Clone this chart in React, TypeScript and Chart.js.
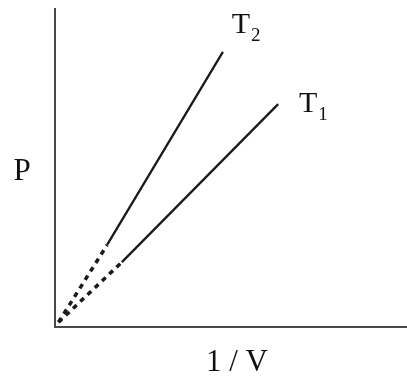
import React, { useEffect, useRef } from "react";
import { Chart, registerables } from "chart.js";

Chart.register(...registerables);

// Data (axis units 0..10, no ticks shown)
const t2Dashed = [
  { x: 0.1, y: 0.15 },
  { x: 1.48, y: 2.58 },
];
const t2Solid = [
  { x: 1.48, y: 2.58 },
  { x: 4.77, y: 8.65 },
];
const t1Dashed = [
  { x: 0.1, y: 0.15 },
  { x: 1.9, y: 2.04 },
];
const t1Solid = [
  { x: 1.9, y: 2.04 },
  { x: 6.34, y: 7.01 },
];
const seriesLabels = ["T", "T"];
const seriesSubs = ["2", "1"];
const labelAnchors = [
  { x: 5.02, y: 9.24 },
  { x: 6.93, y: 6.76 },
];
const xTitle = "1 / V";
const yTitle = "P";

const SERIF = "'Liberation Serif', 'Times New Roman', serif";

const textPlugin = {
  id: "textPlugin",
  afterDraw(chart: any) {
    const { ctx, chartArea, scales } = chart;
    ctx.save();
    ctx.fillStyle = "#111";
    ctx.textBaseline = "alphabetic";
    // axis titles
    ctx.font = `31px ${SERIF}`;
    ctx.textAlign = "center";
    ctx.fillText(yTitle, chartArea.left - 33, chartArea.top + 171);
    ctx.fillText(xTitle, chartArea.left + 182, chartArea.bottom + 44);
    // series labels with subscripts
    ctx.textAlign = "left";
    seriesLabels.forEach((lab, i) => {
      const px = scales.x.getPixelForValue(labelAnchors[i].x);
      const py = scales.y.getPixelForValue(labelAnchors[i].y);
      ctx.font = `30px ${SERIF}`;
      ctx.fillText(lab, px, py);
      const w = ctx.measureText(lab).width;
      ctx.font = `19px ${SERIF}`;
      ctx.fillText(seriesSubs[i], px + w + 1, py + 8);
    });
    ctx.restore();
  },
};

export default function App() {
  const ref = useRef<HTMLCanvasElement>(null);
  useEffect(() => {
    if (!ref.current) return;
    const dashed = { borderColor: "#1a1a1a", borderWidth: 3.5, borderDash: [5, 5], borderCapStyle: "butt", pointRadius: 0, showLine: true };
    const solid = { borderColor: "#1a1a1a", borderWidth: 2.3, pointRadius: 0, showLine: true };
    const chart = new Chart(ref.current, {
      type: "scatter",
      data: {
        datasets: [
          { label: "T2 dashed", data: t2Dashed, ...dashed },
          { label: "T2", data: t2Solid, ...solid },
          { label: "T1 dashed", data: t1Dashed, ...dashed },
          { label: "T1", data: t1Solid, ...solid },
        ],
      },
      options: {
        animation: false,
        responsive: false,
        layout: { padding: { left: 55, top: 9, right: 0, bottom: 49 } },
        plugins: { legend: { display: false }, tooltip: { enabled: false } },
        scales: {
          x: {
            type: "linear",
            min: 0,
            max: 10,
            grid: { display: false, drawTicks: false },
            ticks: { display: false },
            border: { display: true, color: "#4a4a4a", width: 2 },
          },
          y: {
            type: "linear",
            min: 0,
            max: 10,
            grid: { display: false, drawTicks: false },
            ticks: { display: false },
            border: { display: true, color: "#4a4a4a", width: 2 },
          },
        },
      },
      plugins: [textPlugin],
    });
    return () => chart.destroy();
  }, []);
  return (
    <div style={{ position: "absolute", left: 0, top: 0, width: 407, height: 376, background: "#fff" }}>
      <canvas ref={ref} width={407} height={376} style={{ display: "block" }} />
    </div>
  );
}
